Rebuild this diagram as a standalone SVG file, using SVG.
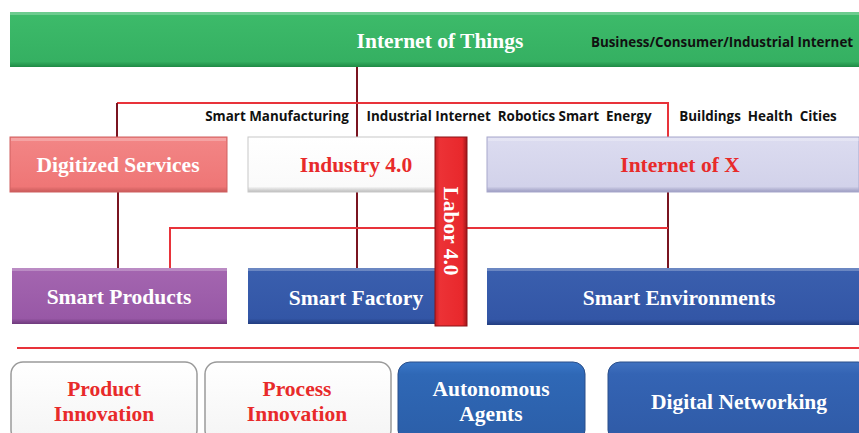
<svg xmlns="http://www.w3.org/2000/svg" width="859" height="433" viewBox="0 0 859 433">
<defs>
<style>
.serif{font-family:"Liberation Serif","Times New Roman",serif;font-weight:bold;text-anchor:middle}
.sans{font-family:"Open Sans","Liberation Sans",Arial,sans-serif;font-weight:bold;font-size:13.4px;fill:#111;white-space:pre}
.t20{font-size:21.5px}
.w{fill:#fff}
.r{fill:#e82a2a}
.hl{fill:#fff;opacity:0.25}
.dk{stroke:#7a1420;stroke-width:2;fill:none}
.rd{stroke:#e8333a;stroke-width:2;fill:none}
</style>
<linearGradient id="gGreen" x1="0" y1="0" x2="0" y2="1"><stop offset="0" stop-color="#3dbb6a"/><stop offset="0.9" stop-color="#35b062"/><stop offset="1" stop-color="#1f8a45"/></linearGradient>
<linearGradient id="gPink" x1="0" y1="0" x2="0" y2="1"><stop offset="0" stop-color="#f28686"/><stop offset="0.9" stop-color="#ef7676"/><stop offset="1" stop-color="#c85a5a"/></linearGradient>
<linearGradient id="gWhite" x1="0" y1="0" x2="0" y2="1"><stop offset="0" stop-color="#ffffff"/><stop offset="0.9" stop-color="#fafafa"/><stop offset="1" stop-color="#bbbbbb"/></linearGradient>
<linearGradient id="gLav" x1="0" y1="0" x2="0" y2="1"><stop offset="0" stop-color="#dcdcf0"/><stop offset="0.9" stop-color="#d2d2ea"/><stop offset="1" stop-color="#9a9ac0"/></linearGradient>
<linearGradient id="gPurple" x1="0" y1="0" x2="0" y2="1"><stop offset="0" stop-color="#a466b0"/><stop offset="0.9" stop-color="#9858a6"/><stop offset="1" stop-color="#6e3a7c"/></linearGradient>
<linearGradient id="gBlue" x1="0" y1="0" x2="0" y2="1"><stop offset="0" stop-color="#3a5fae"/><stop offset="0.9" stop-color="#3356a6"/><stop offset="1" stop-color="#223d80"/></linearGradient>
<linearGradient id="gRed" x1="0" y1="0" x2="1" y2="0"><stop offset="0" stop-color="#c41e22"/><stop offset="0.15" stop-color="#ec3236"/><stop offset="0.85" stop-color="#e8282c"/><stop offset="1" stop-color="#a0161a"/></linearGradient>
<linearGradient id="gBtnW" x1="0" y1="0" x2="0" y2="1"><stop offset="0" stop-color="#ffffff"/><stop offset="1" stop-color="#f4f4f4"/></linearGradient>
<linearGradient id="gBtnB" x1="0" y1="0" x2="0" y2="1"><stop offset="0" stop-color="#3a78c8"/><stop offset="0.15" stop-color="#2f68b6"/><stop offset="1" stop-color="#2b5ea8"/></linearGradient>
<linearGradient id="gBtnB2" x1="0" y1="0" x2="0" y2="1"><stop offset="0" stop-color="#4172c0"/><stop offset="0.15" stop-color="#3464b4"/><stop offset="1" stop-color="#2f5aa6"/></linearGradient>
</defs>
<rect width="859" height="433" fill="#fff"/>

<g id="connectors">
<path class="dk" d="M357 67 V137"/>
<path class="rd" d="M117 103 H668 V137"/>
<path class="dk" d="M117 103 V137"/>
<path class="dk" d="M118 192 V268"/>
<path class="dk" d="M357 192 V268"/>
<path class="dk" d="M668 192 V268"/>
<path class="rd" d="M170 268 V228 H668"/>
<path class="rd" d="M17 348 H859"/>
</g>

<g id="iot">
<rect x="10" y="12" width="849" height="55" fill="url(#gGreen)"/>
<rect x="10" y="12" width="849" height="3" class="hl"/>
<text class="serif w t20" x="440" y="48">Internet of Things</text>
<text class="sans" x="722" y="47" text-anchor="middle">Business/Consumer/Industrial Internet</text>
</g>

<g id="labels">
<text class="sans" x="277" y="121" text-anchor="middle">Smart Manufacturing</text>
<text class="sans" x="509" y="121" text-anchor="middle">Industrial Internet  Robotics Smart  Energy</text>
<text class="sans" x="758" y="121" text-anchor="middle">Buildings  Health  Cities</text>
</g>

<g id="digitized-services">
<rect x="10" y="137" width="217" height="55" fill="url(#gPink)" stroke="#d06060" stroke-width="1"/>
<rect x="11" y="138" width="215" height="3" class="hl"/>
<text class="serif w t20" x="118" y="172">Digitized Services</text>
</g>

<g id="industry40">
<rect x="248" y="137" width="190" height="55" fill="url(#gWhite)" stroke="#c8c8c8" stroke-width="1"/>
<text class="serif r t20" x="356" y="172">Industry 4.0</text>
</g>

<g id="internet-of-x">
<rect x="487" y="137" width="372" height="55" fill="url(#gLav)" stroke="#a8a8cc" stroke-width="1"/>
<rect x="488" y="138" width="371" height="3" class="hl"/>
<text class="serif r t20" x="680" y="172">Internet of X</text>
</g>

<g id="smart-products">
<rect x="12" y="268" width="215" height="56" fill="url(#gPurple)"/>
<rect x="12" y="268" width="215" height="3" class="hl"/>
<text class="serif w t20" x="119" y="304">Smart Products</text>
</g>

<g id="smart-factory">
<rect x="248" y="268" width="190" height="56" fill="url(#gBlue)"/>
<rect x="248" y="268" width="190" height="3" class="hl"/>
<text class="serif w t20" x="356" y="305">Smart Factory</text>
</g>

<g id="smart-environments">
<rect x="487" y="268" width="372" height="57" fill="url(#gBlue)"/>
<rect x="487" y="268" width="372" height="3" class="hl"/>
<text class="serif w t20" x="679" y="305">Smart Environments</text>
</g>

<g id="labor40">
<rect x="435" y="137" width="32" height="189" fill="url(#gRed)" stroke="#8a1216" stroke-width="1"/>
<text class="serif w t20" transform="translate(451 231) rotate(90)" y="7">Labor 4.0</text>
</g>

<g id="product-innovation">
<rect x="11" y="362" width="186" height="80" rx="12" fill="url(#gBtnW)" stroke="#9a9a9a" stroke-width="1.5"/>
<text class="serif r t20" x="104" y="396">Product</text>
<text class="serif r t20" x="104" y="421">Innovation</text>
</g>

<g id="process-innovation">
<rect x="205" y="362" width="186" height="80" rx="12" fill="url(#gBtnW)" stroke="#9a9a9a" stroke-width="1.5"/>
<text class="serif r t20" x="297" y="396">Process</text>
<text class="serif r t20" x="297" y="421">Innovation</text>
</g>

<g id="autonomous-agents">
<rect x="398" y="362" width="187" height="80" rx="12" fill="url(#gBtnB)" stroke="#2a4f8a" stroke-width="1"/>
<text class="serif w t20" x="491" y="396">Autonomous</text>
<text class="serif w t20" x="491" y="421">Agents</text>
</g>

<g id="digital-networking">
<rect x="608" y="362" width="262" height="80" rx="12" fill="url(#gBtnB2)" stroke="#2a4f8a" stroke-width="1"/>
<text class="serif w t20" x="739" y="409">Digital Networking</text>
</g>
</svg>
